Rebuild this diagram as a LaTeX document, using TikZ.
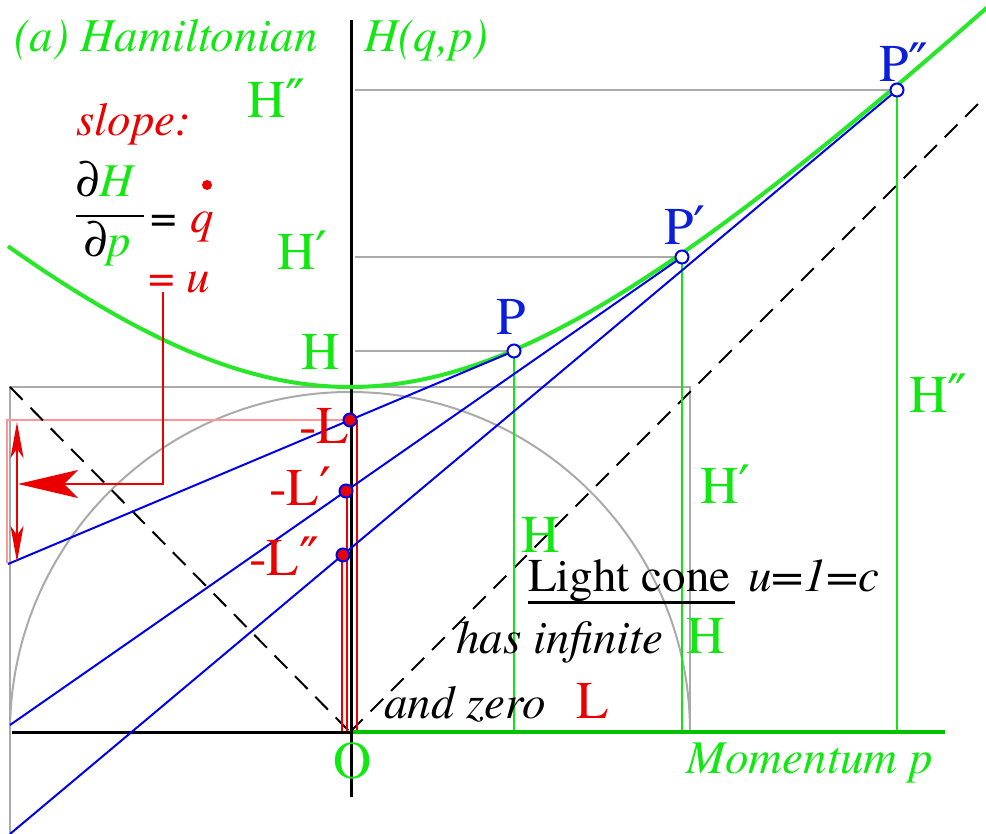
\documentclass[tikz,border=0pt]{standalone}
\usepackage{fontspec}
\setmainfont{texgyretermes}[Extension=.otf, UprightFont=*-regular, ItalicFont=*-italic, BoldFont=*-bold, BoldItalicFont=*-bolditalic]
\newfontfamily\symfont{DejaVu Serif}
\usetikzlibrary{arrows.meta}
\definecolor{hg}{RGB}{17,232,17}
\definecolor{cg}{RGB}{40,230,40}
\definecolor{ag}{RGB}{0,195,0}
\definecolor{rd}{RGB}{235,0,0}
\definecolor{bl}{RGB}{0,0,235}
\definecolor{bt}{RGB}{10,30,220}
\definecolor{gy}{RGB}{170,170,170}
\definecolor{pk}{RGB}{255,150,150}
\newcommand\fA{\fontsize{47}{50}\selectfont}
\newcommand\fB{\fontsize{53}{56}\selectfont}
\newcommand\pr{{\symfont ′}}
\newcommand\ppr{{\symfont ″}}
\begin{document}
\begin{tikzpicture}[x=1pt,y=-1pt,
  lab/.style={inner sep=0pt, anchor=base west},
  greyline/.style={draw=gy, line width=2pt},
  greenv/.style={draw=hg, line width=2.5pt},
  redv/.style={draw=rd, line width=2.6pt},
  blueline/.style={draw=bl, line width=2pt},
  dashline/.style={draw=black, line width=2pt, dash pattern=on 18pt off 11pt},
  ptmark/.style={circle, draw=bl, fill=white, line width=2pt, minimum size=13pt, inner sep=0pt},
  ldot/.style={circle, draw=bl, fill=rd, line width=2pt, minimum size=13pt, inner sep=0pt}]
\useasboundingbox (0,0) rectangle (986,834);
% key coordinates
\coordinate (O) at (350,732);
\coordinate (P) at (514,351);
\coordinate (Pp) at (682,257);
\coordinate (Ppp) at (897,90);
\coordinate (E1) at (8,564);
\coordinate (E2) at (10,725);
\coordinate (E3) at (10,834);
% grey construction
\draw[greyline] (10,834) -- (10,387) -- (690,387) -- (690,732);
\draw[greyline] (10,732) arc[start angle=180, end angle=360, radius=340];
\draw[greyline] (355,351) -- (P);
\draw[greyline] (355,257) -- (Pp);
\draw[greyline] (355,90) -- (Ppp);
% pink box
\draw[draw=pk, line width=2pt] (7,563) -- (7,420) -- (350,420);
% dashed light cone
\coordinate (DL) at (10,387);
\coordinate (DR) at (982,100);
\draw[dashline] (DL) -- (O);
\draw[dashline] (O) -- (DR);
% green verticals
\draw[greenv] (P) -- (514,732);
\draw[greenv] (Pp) -- (682,732);
\draw[greenv] (Ppp) -- (897,732);
% red verticals
\coordinate (L1) at (350,420);
\coordinate (L2) at (346,491);
\coordinate (L3) at (343,555);
\draw[redv] (357,420) -- (357,732);
\draw[redv] (347,491) -- (347,732);
\draw[redv] (342,555) -- (342,732);
% axes
\draw[black, line width=3pt] (12,732) -- (O);
\draw[draw=ag, line width=3.5pt] (O) -- (945,732);
\draw[black, line width=3pt] (351,20) -- (351,797);
% hyperbola
\draw[draw=cg, line width=4pt] plot[domain=-342:640, samples=150, smooth] ({\x+350},{732-345*sqrt(1+(\x/345)^2)});
% tangent lines
\draw[blueline] (P) -- (E1);
\draw[blueline] (Pp) -- (E2);
\draw[blueline] (Ppp) -- (E3);
% red arrows
\coordinate (A0) at (163,292);
\coordinate (A1) at (163,484);
\coordinate (A2) at (18,484);
\draw[draw=rd, line width=2pt, -{Stealth[length=60pt, width=28pt, inset=14pt]}] (A0) -- (A1) -- (A2);
\coordinate (B0) at (17,422);
\coordinate (B1) at (17,562);
\draw[draw=rd, line width=2pt, {Stealth[length=36pt, width=13pt, inset=9pt]}-{Stealth[length=36pt, width=13pt, inset=9pt]}] (B0) -- (B1);
% markers
\node[ptmark] (mP) at (P) {};
\node[ptmark] (mPp) at (Pp) {};
\node[ptmark] (mPpp) at (Ppp) {};
\node[ldot] (dL1) at (L1) {};
\node[ldot] (dL2) at (L2) {};
\node[ldot] (dL3) at (L3) {};
% texts
\node[lab, text=hg] (title) at (14,52) {\fA\itshape (a) Hamiltonian};
\node[lab, text=hg] (Hqp) at (364,52) {\fA\itshape H(q,p)};
\node[lab, text=hg] (Hpp1) at (247,118) {\fB H\ppr};
\node[lab, text=hg] (Hp1) at (277,270) {\fB H\pr};
\node[lab, text=hg] (H1) at (301,370) {\fB H};
\node[lab, text=rd] (slope) at (76,136) {\fA\itshape slope:};
\node[lab] (dH) at (76,197) {\fA ∂\textcolor{hg}{\itshape H}};
\draw[black, line width=2pt] (76,216) -- (144,216);
\node[lab] (dp) at (84,257) {\fA ∂\textcolor{hg}{\itshape p}};
\node[lab] (eq1) at (150,233) {\fA =};
\node[lab, text=rd] (qd) at (190,233) {\fA\itshape q};
\fill[rd] (207,185) circle[radius=5];
\node[lab, text=rd] (eq2) at (148,293) {\fA = \itshape u};
\node[lab, text=bt] (Pl) at (496,335) {\fB P};
\node[lab, text=bt] (Ppl) at (664,245) {\fB P\pr};
\node[lab, text=bt] (Pppl) at (879,82) {\fB P\ppr};
\node[lab, text=rd] (mL1) at (299,443) {\fB -L};
\node[lab, text=rd] (mL2) at (269,505) {\fB -L\pr};
\node[lab, text=rd] (mL3) at (249,575) {\fB -L\ppr};
\node[lab, text=hg] (Hpp2) at (909,413) {\fB H\ppr};
\node[lab, text=hg] (Hp2) at (700,503) {\fB H\pr};
\node[lab, text=hg] (H2) at (521,552) {\fB H};
\node[lab] (lc) at (528,591) {\fA Light cone};
\draw[black, line width=3pt] (528,602) -- (735,602);
\node[lab] (u1c) at (748,591) {\fA\itshape u=1=c};
\node[lab] (hi) at (456,653) {\fA\itshape has infinite};
\node[lab, text=hg] (H3) at (686,653) {\fB H};
\node[lab] (az) at (384,718) {\fA\itshape and zero};
\node[lab, text=rd] (L4) at (576,718) {\fB L};
\node[lab, text=hg] (Ol) at (333,778) {\fB O};
\node[lab, text=hg] (mom) at (686,773) {\fA\itshape Momentum p};
\end{tikzpicture}
\end{document}
